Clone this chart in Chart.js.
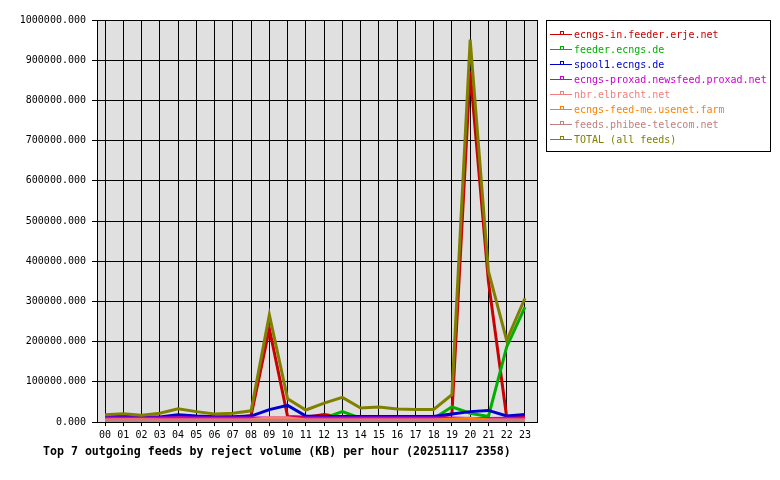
<!DOCTYPE html>
<html>
<head>
<meta charset="utf-8">
<script src="https://cdn.jsdelivr.net/npm/chart.js@4/dist/chart.umd.min.js"></script>
<style>
  body { margin: 0; background: #fff; }
  #wrap { position: relative; width: 780px; height: 480px; }
  #legend {
    position: absolute; left: 546px; top: 20px; width: 223px; height: 124px;
    border: 1px solid #000; box-sizing: content-box;
    font: 10px "DejaVu Sans Mono", monospace; padding-top: 6px;
  }
  .row { position: relative; height: 15px; line-height: 15px; white-space: nowrap; }
  .swatch { position: absolute; left: 3px; top: 7px; width: 22px; height: 1px; }
  .mark { position: absolute; left: 10px; top: -3px; width: 2px; height: 2px; border: 1px solid; background: #fff; }
  .txt { position: absolute; left: 27px; top: 0; }
</style>
</head>
<body>
<div id="wrap">
  <canvas id="chart" width="780" height="480"></canvas>
  <div id="legend"></div>
</div>
<script>
const hours = ['00','01','02','03','04','05','06','07','08','09','10','11',
               '12','13','14','15','16','17','18','19','20','21','22','23'];

const feedNames = ['ecngs-in.feeder.erje.net', 'feeder.ecngs.de', 'spool1.ecngs.de',
  'ecngs-proxad.newsfeed.proxad.net', 'nbr.elbracht.net', 'ecngs-feed-me.usenet.farm',
  'feeds.phibee-telecom.net', 'TOTAL (all feeds)'];
const feedColors = ['#cc0000', '#00b000', '#0000cc', '#cc00cc', '#f08080', '#ff8000', '#c08080', '#808000'];

// KB per hour
const erje   = [11000, 11000, 10000, 10000, 14000, 11000, 11000, 11000, 16000, 232000, 14000, 12000,
                19000, 12000, 12000, 11000, 11000, 11000, 11000, 20000, 872000, 350000, 12000, 12000];
const ecngs  = [9000, 9000, 9000, 9000, 10000, 9000, 9000, 9000, 9000, 9000, 9000, 9000,
                10000, 26000, 10000, 9000, 9000, 9000, 9000, 38000, 22000, 14000, 187000, 286000];
const spool1 = [14000, 15000, 12500, 12500, 18500, 15000, 13500, 13500, 15000, 31000, 41500, 15000,
                14000, 14000, 14000, 14000, 14000, 14000, 14000, 20000, 26000, 29000, 15000, 19000];
const proxad = [10000, 10000, 10000, 10000, 10500, 10000, 10000, 10000, 10000, 10000, 10000, 10000,
                10000, 10000, 10000, 10000, 10000, 10000, 10000, 10000, 9000, 9000, 9500, 9500];
const nbr    = [5000, 6000, 5500, 5000, 5000, 5000, 5000, 5000, 6000, 11000, 10500, 5000,
                5000, 5000, 5000, 5000, 5000, 5000, 5000, 5000, 5000, 5000, 5000, 5000];
const feedme = [4500, 4500, 4500, 4500, 4500, 4500, 4500, 4500, 4500, 4500, 4500, 4500,
                4500, 4500, 4500, 4500, 4500, 4500, 4500, 7000, 9500, 5000, 4500, 4500];
const phibee = [4000, 4000, 4000, 4000, 4000, 4000, 4000, 4000, 4000, 4000, 4000, 4000,
                4000, 4000, 4000, 4000, 4000, 4000, 4000, 4000, 4000, 4000, 4000, 4000];
const total  = [18500, 21000, 17000, 22000, 33000, 26000, 20000, 22000, 28000, 267000, 58000, 30000,
                47000, 61500, 35000, 37500, 32500, 31500, 31500, 68000, 951000, 375000, 203000, 308000];

const series = [erje, ecngs, spool1, proxad, nbr, feedme, phibee, total];

// grey plot background + frame, and title shifted to x=43
const plotFrame = {
  id: 'plotFrame',
  afterLayout(chart) {
    chart.titleBlock.left = 43;
  },
  beforeDraw(chart) {
    const a = chart.chartArea, c = chart.ctx;
    c.save();
    c.fillStyle = '#e0e0e0';
    c.fillRect(a.left, a.top, a.right - a.left, a.bottom - a.top);
    c.restore();
  },
  afterDraw(chart) {
    const a = chart.chartArea, c = chart.ctx;
    c.save();
    c.strokeStyle = '#000';
    c.lineWidth = 1;
    c.strokeRect(Math.round(a.left) + 0.5, Math.round(a.top) + 0.5,
                 Math.round(a.right - a.left), Math.round(a.bottom - a.top));
    c.restore();
  }
};

const mono = '"DejaVu Sans Mono", monospace';

const ctx = document.getElementById('chart').getContext('2d');
new Chart(ctx, {
  type: 'line',
  data: {
    datasets: series.map((vals, i) => ({
      label: feedNames[i],
      data: vals.map((v, h) => ({ x: h, y: v })),
      borderColor: feedColors[i],
      backgroundColor: feedColors[i],
      borderWidth: 3,
      pointRadius: 0,
      tension: 0,
      order: series.length - i
    }))
  },
  options: {
    responsive: false,
    animation: false,
    layout: { padding: { left: 0, right: 243, top: 20, bottom: 0 } },
    plugins: {
      legend: { display: false },
      tooltip: { enabled: false },
      title: {
        display: true,
        position: 'bottom',
        align: 'start',
        text: 'Top 7 outgoing feeds by reject volume (KB) per hour (20251117 2358)',
        color: '#000',
        font: { family: mono, size: 11.6, weight: 'bold' },
        padding: { top: 3, bottom: 21 }
      }
    },
    scales: {
      x: {
        type: 'linear',
        min: -0.44,
        max: 23.66,
        afterBuildTicks: s => { s.ticks = hours.map((h, i) => ({ value: i })); },
        afterFit: s => { s.height = 20; },
        grid: { color: '#000', lineWidth: 1, tickLength: 4 },
        border: { color: '#000' },
        ticks: {
          color: '#000',
          font: { family: mono, size: 10 },
          padding: 3,
          maxRotation: 0,
          autoSkip: false,
          callback: v => hours[v]
        }
      },
      y: {
        min: 0,
        max: 1000000,
        afterFit: s => { s.width = 97; },
        grid: { color: '#000', lineWidth: 1, tickLength: 5 },
        border: { color: '#000' },
        ticks: {
          stepSize: 100000,
          color: '#000',
          font: { family: mono, size: 10 },
          padding: 6,
          callback: v => v.toFixed(3)
        }
      }
    }
  },
  plugins: [plotFrame]
});

// legend box on the right
const legend = document.getElementById('legend');
feedNames.forEach((name, i) => {
  const row = document.createElement('div');
  row.className = 'row';
  row.innerHTML = '<span class="swatch" style="background:' + feedColors[i] + '">' +
    '<span class="mark" style="border-color:' + feedColors[i] + '"></span></span>' +
    '<span class="txt" style="color:' + feedColors[i] + '">' + name + '</span>';
  legend.appendChild(row);
});
</script>
</body>
</html>
